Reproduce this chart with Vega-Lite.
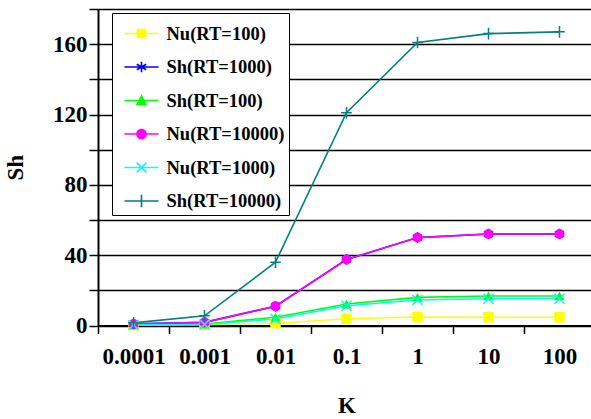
{
  "$schema": "https://vega.github.io/schema/vega-lite/v6.json",
  "width": 497,
  "height": 316.5,
  "autosize": "none",
  "padding": {"left": 98, "top": 9, "right": 0, "bottom": 93.5},
  "background": "white",
  "config": {"view": {"stroke": null}, "font": "Liberation Serif"},
  "data": {"values": [
    {"K": "0.0001", "series": "Nu(RT=100)", "v": 0.2},
    {"K": "0.001", "series": "Nu(RT=100)", "v": 0.4},
    {"K": "0.01", "series": "Nu(RT=100)", "v": 1.3},
    {"K": "0.1", "series": "Nu(RT=100)", "v": 3.8},
    {"K": "1", "series": "Nu(RT=100)", "v": 4.8},
    {"K": "10", "series": "Nu(RT=100)", "v": 4.7},
    {"K": "100", "series": "Nu(RT=100)", "v": 4.7},
    {"K": "0.0001", "series": "Sh(RT=1000)", "v": 0.9},
    {"K": "0.001", "series": "Sh(RT=1000)", "v": 1.8},
    {"K": "0.01", "series": "Sh(RT=1000)", "v": 11},
    {"K": "0.1", "series": "Sh(RT=1000)", "v": 37.5},
    {"K": "1", "series": "Sh(RT=1000)", "v": 50},
    {"K": "10", "series": "Sh(RT=1000)", "v": 52},
    {"K": "100", "series": "Sh(RT=1000)", "v": 52},
    {"K": "0.0001", "series": "Sh(RT=100)", "v": 0.3},
    {"K": "0.001", "series": "Sh(RT=100)", "v": 0.8},
    {"K": "0.01", "series": "Sh(RT=100)", "v": 4.7},
    {"K": "0.1", "series": "Sh(RT=100)", "v": 12.2},
    {"K": "1", "series": "Sh(RT=100)", "v": 16},
    {"K": "10", "series": "Sh(RT=100)", "v": 16.8},
    {"K": "100", "series": "Sh(RT=100)", "v": 16.8},
    {"K": "0.0001", "series": "Nu(RT=10000)", "v": 0.8},
    {"K": "0.001", "series": "Nu(RT=10000)", "v": 1.8},
    {"K": "0.01", "series": "Nu(RT=10000)", "v": 11},
    {"K": "0.1", "series": "Nu(RT=10000)", "v": 37.5},
    {"K": "1", "series": "Nu(RT=10000)", "v": 50},
    {"K": "10", "series": "Nu(RT=10000)", "v": 52},
    {"K": "100", "series": "Nu(RT=10000)", "v": 52},
    {"K": "0.0001", "series": "Nu(RT=1000)", "v": 0.3},
    {"K": "0.001", "series": "Nu(RT=1000)", "v": 0.6},
    {"K": "0.01", "series": "Nu(RT=1000)", "v": 3.7},
    {"K": "0.1", "series": "Nu(RT=1000)", "v": 11.2},
    {"K": "1", "series": "Nu(RT=1000)", "v": 14.5},
    {"K": "10", "series": "Nu(RT=1000)", "v": 15.2},
    {"K": "100", "series": "Nu(RT=1000)", "v": 15.2},
    {"K": "0.0001", "series": "Sh(RT=10000)", "v": 1.5},
    {"K": "0.001", "series": "Sh(RT=10000)", "v": 5.5},
    {"K": "0.01", "series": "Sh(RT=10000)", "v": 36},
    {"K": "0.1", "series": "Sh(RT=10000)", "v": 121},
    {"K": "1", "series": "Sh(RT=10000)", "v": 161},
    {"K": "10", "series": "Sh(RT=10000)", "v": 166},
    {"K": "100", "series": "Sh(RT=10000)", "v": 167}
  ]},
  "encoding": {
    "x": {
      "field": "K", "type": "nominal", "bandPosition": 0.5,
      "scale": {"type": "band", "domain": ["0.0001", "0.001", "0.01", "0.1", "1", "10", "100"], "paddingInner": 0, "paddingOuter": 0},
      "axis": {
        "title": "K", "titleFont": "Liberation Serif", "titleFontWeight": "bold", "titleFontSize": 23, "titleColor": "black", "titlePadding": 26,
        "labelFont": "Liberation Serif", "labelFontWeight": "bold", "labelFontSize": 23, "labelColor": "black", "labelAngle": 0, "labelPadding": 12,
        "tickSize": 8, "tickColor": "black", "tickWidth": 1.5, "tickBand": "extent",
        "domainColor": "black", "domainWidth": 2, "grid": false
      }
    },
    "y": {
      "field": "v", "type": "quantitative",
      "scale": {"domain": [0, 180], "nice": false, "zero": true},
      "axis": {
        "title": "Sh", "titleFont": "Liberation Serif", "titleFontWeight": "bold", "titleFontSize": 23, "titleColor": "black", "titlePadding": 25,
        "labelFont": "Liberation Serif", "labelFontWeight": "bold", "labelFontSize": 23, "labelColor": "black", "labelPadding": 2,
        "values": [0, 20, 40, 60, 80, 100, 120, 140, 160, 180],
        "labelExpr": "datum.value % 40 === 0 ? datum.label : ''",
        "labelOverlap": false, "labelBound": false, "labelFlush": false,
        "tickSize": 9, "tickColor": "black", "tickWidth": 1.5,
        "grid": true, "gridColor": "black", "gridWidth": 1.5, "gridOpacity": 1,
        "domainColor": "black", "domainWidth": 2
      }
    }
  },
  "layer": [
    {
      "mark": {"type": "line", "strokeWidth": 1.6},
      "encoding": {"color": {"field": "series", "type": "nominal", "scale": {"domain": ["Nu(RT=100)", "Nu(RT=1000)", "Nu(RT=10000)", "Sh(RT=100)", "Sh(RT=1000)", "Sh(RT=10000)"], "range": ["#FFFF00", "#00FFFF", "#FF00FF", "#00FF00", "#0000FF", "#008080"]}, "legend": null}}
    },
    {
      "transform": [{"filter": "datum.series === 'Nu(RT=100)'"}],
      "mark": {"type": "point", "shape": "square", "filled": true, "size": 110, "opacity": 1},
      "encoding": {"color": {"field": "series", "type": "nominal", "legend": null}}
    },
    {
      "transform": [{"filter": "datum.series === 'Sh(RT=1000)'"}],
      "mark": {"type": "point", "shape": "M0,-1V1M-0.87,-0.5L0.87,0.5M-0.87,0.5L0.87,-0.5", "filled": false, "size": 110, "strokeWidth": 1.5, "opacity": 1},
      "encoding": {"color": {"field": "series", "type": "nominal", "legend": null}}
    },
    {
      "transform": [{"filter": "datum.series === 'Sh(RT=100)'"}],
      "mark": {"type": "point", "shape": "triangle-up", "filled": true, "size": 100, "opacity": 1},
      "encoding": {"color": {"field": "series", "type": "nominal", "legend": null}}
    },
    {
      "transform": [{"filter": "datum.series === 'Nu(RT=10000)'"}],
      "mark": {"type": "point", "shape": "circle", "filled": true, "size": 100, "opacity": 1},
      "encoding": {"color": {"field": "series", "type": "nominal", "legend": null}}
    },
    {
      "transform": [{"filter": "datum.series === 'Nu(RT=1000)'"}],
      "mark": {"type": "point", "shape": "M-1,-1L1,1M-1,1L1,-1", "filled": false, "size": 100, "strokeWidth": 1.5, "opacity": 1},
      "encoding": {"color": {"field": "series", "type": "nominal", "legend": null}}
    },
    {
      "transform": [{"filter": "datum.series === 'Sh(RT=10000)'"}],
      "mark": {"type": "point", "shape": "M-1,0H1M0,-1.1V1.1", "filled": false, "size": 110, "strokeWidth": 1.5, "opacity": 1},
      "encoding": {"color": {"field": "series", "type": "nominal", "legend": null}}
    },
    {
      "mark": {"type": "point", "filled": true, "opacity": 0},
      "encoding": {
        "fill": {"field": "series", "type": "nominal",
          "scale": {"domain": ["Nu(RT=100)", "Sh(RT=1000)", "Sh(RT=100)", "Nu(RT=10000)", "Nu(RT=1000)", "Sh(RT=10000)"], "range": ["#FFFF00", "#0000FF", "#00FF00", "#FF00FF", "#00FFFF", "#008080"]},
          "legend": {"orient": "none", "legendX": 14, "legendY": 4, "title": null, "padding": 4, "symbolOffset": 9, "strokeColor": "black", "fillColor": "white", "labelFont": "Liberation Serif", "labelFontWeight": "bold", "labelFontSize": 18.5, "labelColor": "black", "labelOffset": 8.5, "rowPadding": 7.5, "symbolSize": 1056, "symbolStrokeWidth": 0, "symbolOpacity": 1, "labelLimit": 400,
            "encode": {"legend": {"strokeWidth": {"value": 1.6}}}}},
        "shape": {"field": "series", "type": "nominal",
          "scale": {"domain": ["Nu(RT=100)", "Sh(RT=1000)", "Sh(RT=100)", "Nu(RT=10000)", "Nu(RT=1000)", "Sh(RT=10000)"],
            "range": [
              "M-1.05,-0.05H1.05V0.05H-1.05ZM-0.3,-0.3H0.3V0.3H-0.3Z",
              "M-1.05,-0.05H1.05V0.05H-1.05ZM-0.05,-0.33H0.05V0.33H-0.05ZM-0.2647,-0.2132L0.3153,0.1268L0.2647,0.2132L-0.3153,-0.1268ZM0.3153,-0.1268L-0.2647,0.2132L-0.3153,0.1268L0.2647,-0.2132Z",
              "M-1.05,-0.05H1.05V0.05H-1.05ZM0,-0.38L0.35,0.3H-0.35Z",
              "M-1.05,-0.05H1.05V0.05H-1.05ZM0.33,0A0.33,0.33 0 1,1 -0.33,0A0.33,0.33 0 1,1 0.33,0Z",
              "M-1.05,-0.05H1.05V0.05H-1.05ZM-0.265,-0.335L0.335,0.265L0.265,0.335L-0.335,-0.265ZM0.265,-0.335L0.335,-0.265L-0.265,0.335L-0.335,0.265Z",
              "M-1.05,-0.05H1.05V0.05H-1.05ZM-0.05,-0.38H0.05V0.38H-0.05Z"
            ]},
          "legend": {"orient": "none", "legendX": 14, "legendY": 4, "title": null, "padding": 4, "symbolOffset": 9, "strokeColor": "black", "fillColor": "white", "labelFont": "Liberation Serif", "labelFontWeight": "bold", "labelFontSize": 18.5, "labelColor": "black", "labelOffset": 8.5, "rowPadding": 7.5, "symbolSize": 1056, "symbolStrokeWidth": 0, "symbolOpacity": 1, "labelLimit": 400,
            "encode": {"legend": {"strokeWidth": {"value": 1.6}}}}}
      }
    }
  ]
}
